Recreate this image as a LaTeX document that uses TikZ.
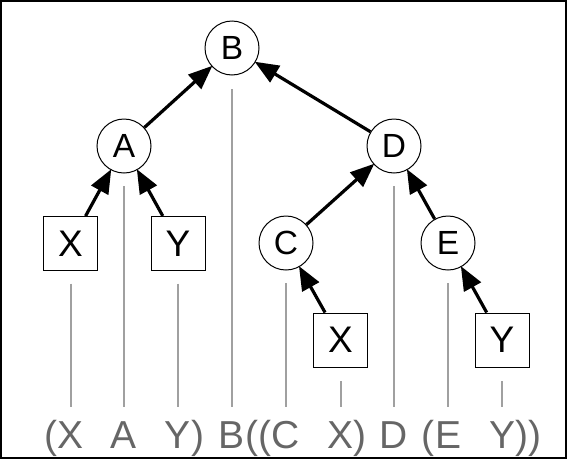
\documentclass[tikz,border=0pt]{standalone}
\usepackage{fontspec}
\setmainfont{Liberation Sans}
\usetikzlibrary{arrows.meta}
\definecolor{lgray}{HTML}{A0A0A0}
\definecolor{tgray}{HTML}{666666}
\tikzset{
  circ/.style={circle, draw, line width=1pt, minimum size=54pt, inner sep=0pt, font=\fontsize{33.5}{33.5}\selectfont},
  sq/.style={rectangle, draw, line width=1pt, minimum size=54pt, inner sep=0pt, font=\fontsize{37}{37}\selectfont},
  arr/.style={line width=3.2pt, -{Triangle[length=24pt,width=19pt]}, shorten >=-1pt},
  gline/.style={lgray, line width=2pt},
  lbl/.style={tgray, anchor=base, inner sep=0pt, font=\fontsize{39}{39}\selectfont},
  par/.style={tgray, inner sep=0pt, font=\fontsize{39}{39}\selectfont}
}
\begin{document}
\begin{tikzpicture}[x=1pt,y=-1pt]
\useasboundingbox (0,0) rectangle (572,461);
\draw[line width=1.5pt] (1,1) rectangle (566,458);
% tree nodes
\node[circ] (B) at (232,48) {B};
\node[circ] (A) at (124,146) {A};
\node[circ] (D) at (394,146) {D};
\node[circ] (C) at (286,243) {C};
\node[circ] (E) at (448,243) {E};
\node[sq] (X1) at (70.5,243.5) {X};
\node[sq] (Y1) at (178,243.5) {Y};
\node[sq] (X2) at (340.5,340) {X};
\node[sq] (Y2) at (502,340) {Y};
% edges
\draw[arr] (A) -- (B);
\draw[arr] (D) -- (B);
\draw[arr] (X1) -- (A);
\draw[arr] (Y1) -- (A);
\draw[arr] (C) -- (D);
\draw[arr] (E) -- (D);
\draw[arr] (X2) -- (C);
\draw[arr] (Y2) -- (E);
% bottom labels
\node[lbl] (l1) at (70.5,448) {X};
\node[lbl] (l2) at (124,448) {A};
\node[lbl] (l3) at (178,448) {Y};
\node[lbl] (l4) at (232,448) {B};
\node[lbl] (l5) at (286,448) {C};
\node[lbl] (l6) at (340.5,448) {X};
\node[lbl] (l7) at (394,448) {D};
\node[lbl] (l8) at (448,448) {E};
\node[lbl] (l9) at (502,448) {Y};
\node[par, anchor=base east] at (l1.base west) {(};
\node[par, anchor=base west] at (l3.base east) {)};
\node[par, anchor=base east] at (l5.base west) {((};
\node[par, anchor=base west] at (l6.base east) {)};
\node[par, anchor=base east] at (l8.base west) {(};
\node[par, anchor=base west] at (l9.base east) {))};
% gray guide lines
\coordinate (g1) at (70.5,407);
\coordinate (g2) at (124,407);
\coordinate (g3) at (178,407);
\coordinate (g4) at (232,407);
\coordinate (g5) at (286,407);
\coordinate (g6) at (340.5,407);
\coordinate (g7) at (394,407);
\coordinate (g8) at (448,407);
\coordinate (g9) at (502,407);
\draw[gline] ([yshift=-40pt]X1.center) -- (g1);
\draw[gline] ([yshift=-40pt]A.center) -- (g2);
\draw[gline] ([yshift=-40pt]Y1.center) -- (g3);
\draw[gline] ([yshift=-41pt]B.center) -- (g4);
\draw[gline] ([yshift=-40pt]C.center) -- (g5);
\draw[gline] ([yshift=-41pt]X2.center) -- (g6);
\draw[gline] ([yshift=-40pt]D.center) -- (g7);
\draw[gline] ([yshift=-40pt]E.center) -- (g8);
\draw[gline] ([yshift=-41pt]Y2.center) -- (g9);
\end{tikzpicture}
\end{document}
